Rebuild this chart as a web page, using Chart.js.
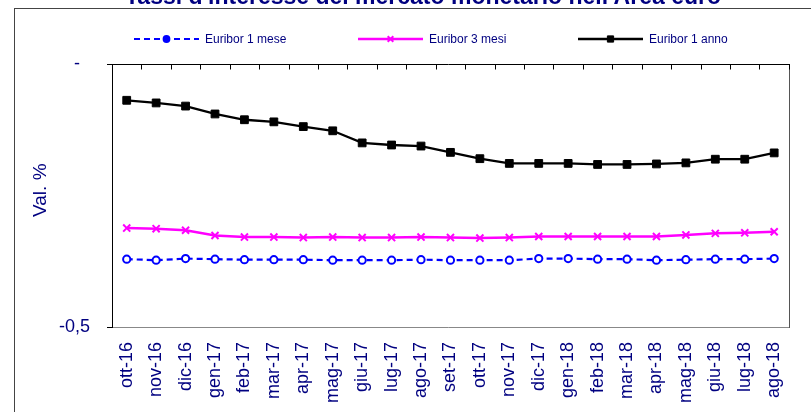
<!DOCTYPE html>
<html>
<head>
<meta charset="utf-8">
<script src="https://cdn.jsdelivr.net/npm/chart.js@4.4.0/dist/chart.umd.min.js"></script>
<style>
  html, body { margin: 0; padding: 0; background: #fff; overflow: hidden; }
  #wrap { width: 811px; height: 412px; position: relative; }
</style>
</head>
<body>
<div id="wrap"><canvas id="MyChart" width="811" height="412"></canvas></div>
<script>
// data
const months = ['ott-16', 'nov-16', 'dic-16', 'gen-17', 'feb-17', 'mar-17', 'apr-17', 'mag-17', 'giu-17', 'lug-17', 'ago-17', 'set-17',
  'ott-17', 'nov-17', 'dic-17', 'gen-18', 'feb-18', 'mar-18', 'apr-18', 'mag-18', 'giu-18', 'lug-18', 'ago-18'];
const euribor1m = [-0.371, -0.373, -0.370, -0.371, -0.372, -0.372, -0.372, -0.373, -0.373, -0.373, -0.372, -0.373,
  -0.373, -0.373, -0.370, -0.370, -0.371, -0.371, -0.373, -0.372, -0.371, -0.371, -0.370];
const euribor3m = [-0.312, -0.313, -0.316, -0.326, -0.329, -0.329, -0.330, -0.329, -0.330, -0.330, -0.329, -0.330,
  -0.331, -0.330, -0.328, -0.328, -0.328, -0.328, -0.328, -0.325, -0.322, -0.321, -0.319];
const euribor12m = [-0.069, -0.074, -0.080, -0.095, -0.106, -0.110, -0.119, -0.127, -0.150, -0.154, -0.156, -0.168,
  -0.180, -0.189, -0.189, -0.189, -0.191, -0.191, -0.190, -0.188, -0.181, -0.181, -0.169];
const seriesNames = ['Euribor 1 mese', 'Euribor 3 mesi', 'Euribor 1 anno'];
const yMin = -0.5;
const yMax = 0;
const titleText = "Tassi d'interesse del mercato monetario nell'Area euro";

const NAVY = '#000080';
const FONT = "'Liberation Sans', Arial, sans-serif";

// frame, title, plot border and legend drawn around the chart
const decorations = {
  id: 'decorations',
  beforeDraw(chart) {
    const ctx = chart.ctx;
    const area = chart.chartArea;
    ctx.save();
    ctx.strokeStyle = '#444';
    ctx.lineWidth = 1;
    ctx.strokeRect(14.5, 8.5, 830, 430);

    ctx.fillStyle = NAVY;
    ctx.font = 'bold 23px ' + FONT;
    ctx.textAlign = 'center';
    ctx.textBaseline = 'alphabetic';
    ctx.fillText(titleText, 423, 4);

    // bottom and right border of plot area
    ctx.strokeStyle = '#888';
    ctx.beginPath();
    ctx.moveTo(107, Math.round(area.bottom) + 0.5);
    ctx.lineTo(Math.round(area.right) + 0.5, Math.round(area.bottom) + 0.5);
    ctx.stroke();
    ctx.strokeStyle = '#555';
    ctx.beginPath();
    ctx.moveTo(Math.round(area.right) + 0.5, Math.round(area.top));
    ctx.lineTo(Math.round(area.right) + 0.5, Math.round(area.bottom) + 1);
    ctx.stroke();

    // category axis sits at 0 (top) with inward ticks
    const xs = chart.scales.x;
    const yTop = Math.round(area.top) + 0.5;
    ctx.strokeStyle = '#000';
    ctx.beginPath();
    ctx.moveTo(107, yTop);
    ctx.lineTo(Math.round(area.right) + 1, yTop);
    for (let i = 0; i <= months.length; i++) {
      const x = Math.round(xs.getPixelForValue(i - 0.5)) + 0.5;
      ctx.moveTo(x, yTop);
      ctx.lineTo(x, yTop + 5);
    }
    ctx.stroke();
    ctx.restore();
  },
  afterDraw(chart) {
    const ctx = chart.ctx;
    const legendX = [134, 358, 578];
    const legendY = 39;
    ctx.save();
    chart.data.datasets.forEach((ds, i) => {
      const x1 = legendX[i];
      const x2 = x1 + 65;
      ctx.strokeStyle = ds.borderColor;
      ctx.lineWidth = ds.borderWidth;
      ctx.setLineDash(ds.borderDash || []);
      ctx.beginPath();
      ctx.moveTo(x1, legendY);
      ctx.lineTo(x2, legendY);
      ctx.stroke();
      ctx.setLineDash([]);
      ctx.fillStyle = ds.pointBorderColor;
      ctx.strokeStyle = ds.pointBorderColor;
      ctx.lineWidth = ds.pointBorderWidth;
      Chart.helpers.drawPoint(ctx, {
        pointStyle: ds.pointStyle,
        radius: ds.pointRadius * 0.8,
        borderWidth: ds.pointBorderWidth,
        rotation: 0
      }, (x1 + x2) / 2, legendY);
      ctx.fillStyle = NAVY;
      ctx.font = '12px ' + FONT;
      ctx.textAlign = 'left';
      ctx.textBaseline = 'middle';
      ctx.fillText(ds.label, x2 + 6, legendY + 1);
    });
    ctx.restore();
  }
};

const chart = new Chart(document.getElementById('MyChart'), {
  type: 'line',
  data: {
    labels: months,
    datasets: [{
      label: seriesNames[0],
      data: euribor1m,
      borderColor: '#0000FF',
      borderWidth: 2.2,
      borderDash: [6, 4],
      pointStyle: 'circle',
      pointRadius: 3.6,
      pointBackgroundColor: '#FFFFFF',
      pointBorderColor: '#0000FF',
      pointBorderWidth: 2
    }, {
      label: seriesNames[1],
      data: euribor3m,
      borderColor: '#FF00FF',
      borderWidth: 2.5,
      pointStyle: 'crossRot',
      pointRadius: 5,
      pointBackgroundColor: '#FF00FF',
      pointBorderColor: '#FF00FF',
      pointBorderWidth: 2
    }, {
      label: seriesNames[2],
      data: euribor12m,
      borderColor: '#000000',
      borderWidth: 2.3,
      pointStyle: 'rect',
      pointRadius: 5.5,
      pointBackgroundColor: '#000000',
      pointBorderColor: '#000000',
      pointBorderWidth: 1
    }]
  },
  options: {
    responsive: false,
    animation: false,
    devicePixelRatio: 1,
    layout: { padding: { top: 64, right: 10, bottom: 0, left: 0 } },
    elements: { line: { tension: 0 } },
    plugins: {
      legend: { display: false },
      tooltip: { enabled: false }
    },
    scales: {
      x: {
        offset: true,
        grid: { display: false, drawTicks: false },
        border: { display: false },
        ticks: {
          color: NAVY,
          font: { family: FONT, size: 18 },
          minRotation: 90,
          maxRotation: 90,
          autoSkip: false,
          padding: 15
        },
        afterFit: (scale) => { scale.height = 85; }
      },
      y: {
        min: yMin,
        max: yMax,
        ticks: {
          stepSize: 0.5,
          color: NAVY,
          font: { family: FONT, size: 18 },
          padding: 17,
          callback: (v) => v === 0 ? '-  ' : String(v).replace('.', ',')
        },
        grid: { drawOnChartArea: false, drawTicks: true, tickLength: 5, color: '#000' },
        border: { color: '#000', width: 1 },
        title: {
          display: true,
          text: '  Val. %',
          color: NAVY,
          font: { family: FONT, size: 19 },
          padding: { top: 29, bottom: 0 }
        },
        afterFit: (scale) => { scale.width = 112; }
      }
    }
  },
  plugins: [decorations]
});
</script>
</body>
</html>
